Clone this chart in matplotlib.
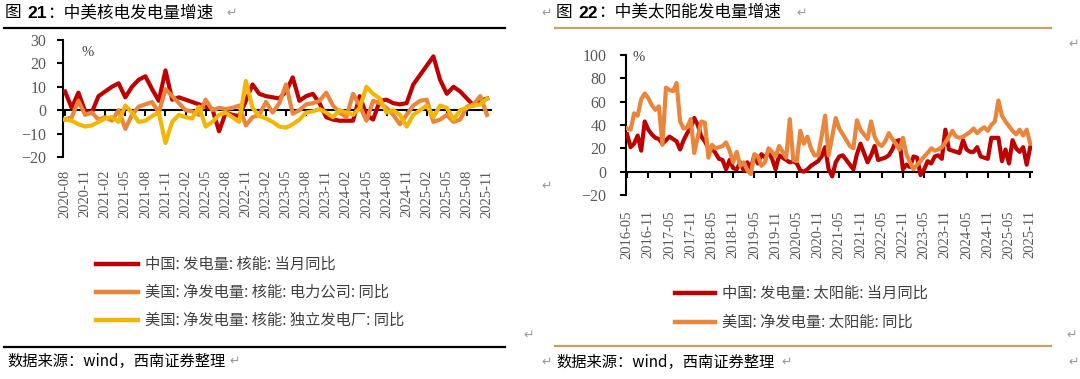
import matplotlib
matplotlib.use('Agg')
import matplotlib.pyplot as plt
import pandas as pd
from matplotlib.lines import Line2D

W, H = 1080, 379
plt.rcParams['font.family'] = ['Liberation Serif', 'DejaVu Serif']
plt.rcParams['axes.unicode_minus'] = True

CJK = ['Noto Sans CJK SC', 'DejaVu Sans']
SANS = ['Liberation Sans', 'DejaVu Sans']

# ---------------- data ----------------
nuc_months = [str(p) for p in pd.period_range('2020-08', '2025-11', freq='M')]
cn_nuclear = [8, 1, 7.5, -0.5, -1,
              6, 8, 10, 11.5, 5.5, 10, 13, 14.5, 9, 4, 17, 4.5,
              5.5, 4.5, 3.5, 2.5, 1.5, 0.5, -9, -1, -2, -2.5, 4, 11,
              7, 6, 5.5, 5, 8, 14, 4, 6, 7, 3, -3, -4,
              -4.5, -4.5, -4.5, 6, -2, -4, 4, 4.5, 3, 2.5, 3, 11,
              15, 19, 23, 13, 7, 10, 8, 5, 2, 4, 5]
us_nuc_utility = [-4, -3, 4, -2, -1,
                  -4, -3, -4.5, 0, -8, -2, 1.5, 2.5, 3.5, -1, 9, 6,
                  3, 0, -0.5, -2, 4.5, 0, 1, 0.5, 1, 2, -6.5, -3,
                  -2, 3.5, -1, 3, 11, -1.5, 0, 2.5, 3, 4, 7.5, 2,
                  -1, -3, 7, 2, -4.5, 4, 3, 1, -2, -6, -2, 2,
                  4, 4.5, -5, -4, -2, -5, -4, 1.5, 2.5, 6, -2]
us_nuc_ipp = [-4, -4.5, -6, -7, -6.5,
              -5, -3.5, -3, -5, 2, -1, -5, -4.5, -2.5, -1, -14, -5,
              -2, -3, -3.5, 1.5, -7, -5, -2, -1, -3, -5, 12.5, 1,
              -2.5, -3.5, -5, -7, -7.5, -6, -4, -1, -0.5, 0.5, -1, -3,
              0, -1, -2, 1, 10, 7, 5, -1, 0, -2, -7, -2,
              0, 2, -3, 2, 1, -4, 0, 1, 2, 2.5, 5]

sol_months = [str(p) for p in pd.period_range('2016-05', '2025-11', freq='M')]
cn_solar = [32, 21, 24, 31, 18, 43, 36, 32, 29, 28,
            24, 27, 30, 28, 26, 19, 27, 33, 38, 46,
            40, 30, 26, 20, 20, 16, 11, 10, 2, 10,
            3, 2, 8, 1, 8, 3, 14, 7, 15, 12,
            17, 11, 2, 14, 12, 10, 8, 9, 7, 1,
            0, 2, 5, 7, 9, 13, 21, 2, -4, 8,
            13, 14, 10, 6, 2, 15, 24, 16, 8, 14,
            22, 10, 11, 12, 14, 19, 26, 27, 2, 6,
            4, 13, 12, -3, 2, 9, 7, 13, 14, 11,
            36, 19, 18, 17, 16, 27, 19, 17, 17, 21,
            13, 12, 11, 29, 29, 29, 9, 19, 7, 27,
            20, 17, 21, 6, 21]
us_solar = [37, 36, 50, 48, 62, 67, 63, 57, 53, 56,
            23, 72, 70, 69, 76, 43, 37, 38, 45, 16,
            30, 43, 42, 12, 23, 20, 21, 22, 25, 18,
            8, 17, 5, 8, 1, -2, 15, 13, 5, 8,
            20, 17, 13, 22, 17, 12, 45, 10, 9, 35,
            24, 30, 20, 14, 14, 30, 48, 14, 30, 46,
            37, 32, 27, 22, 20, 44, 36, 32, 28, 43,
            30, 24, 22, 26, 33, 28, 24, 19, 29, 15,
            8, 2, 6, 9, 13, 16, 20, 18, 19, 21,
            25, 30, 35, 30, 29, 30, 32, 34, 37, 33,
            36, 38, 35, 40, 43, 61, 48, 43, 39, 35,
            32, 36, 31, 36, 24]

RED = '#C00000'
ORANGE = '#EA853C'
YELLOW = '#F2B705'
GOLD = '#C9A063'
TICKC = '#595959'
TXTC = '#404040'
MARKC = '#9a9a9a'

fig = plt.figure(figsize=(10.8, 3.79), dpi=100)


def fx(x):
    return x / W


def fy(y):
    return 1 - y / H


def add_ax(x0, x1, ytop, ybot):
    return fig.add_axes([fx(x0), fy(ybot), (x1 - x0) / W, (ybot - ytop) / H])


def setup(ax, ylim, yticks, xidx, months, xlim, pad_y, pad_x):
    ax.set_xlim(*xlim)
    ax.set_ylim(*ylim)
    ax.set_yticks(yticks)
    for s in ('top', 'right'):
        ax.spines[s].set_visible(False)
    ax.spines['left'].set_linewidth(1.5)
    ax.spines['bottom'].set_position(('data', 0))
    ax.spines['bottom'].set_linewidth(1.5)
    ax.set_xticks(xidx)
    ax.tick_params(axis='x', direction='out', length=4, width=1.5, labelbottom=False)
    ax.tick_params(axis='y', direction='out', length=4, width=1.5, pad=pad_y,
                   labelsize=11.5, labelcolor=TICKC)
    sec = ax.secondary_xaxis('bottom')
    sec.set_xticks(xidx, [months[i] for i in xidx])
    sec.tick_params(length=0, pad=pad_x, labelsize=10.5, labelcolor=TICKC, rotation=90)
    sec.spines['bottom'].set_visible(False)
    ax.patch.set_alpha(0)


def mark(x, y, size=9):
    fig.text(fx(x), fy(y), '\u21b5', family=['DejaVu Sans'], fontsize=size,
             color=MARKC, ha='left', va='center')


# ---------------- left chart ----------------
axL = add_ax(63, 491, 40, 157)
xL = list(range(len(nuc_months)))
axL.plot(xL, cn_nuclear, color=RED, lw=3, solid_joinstyle='round', zorder=3)
axL.plot(xL, us_nuc_utility, color=ORANGE, lw=3, solid_joinstyle='round', zorder=3)
axL.plot(xL, us_nuc_ipp, color=YELLOW, lw=3, solid_joinstyle='round', zorder=3)
setup(axL, (-20, 30), [-20, -10, 0, 10, 20, 30], list(range(0, len(nuc_months), 3)),
      nuc_months, (-0.3, 63.6), 8, 9)
axL.text(0.058, 0.895, '%', transform=axL.transAxes, fontsize=10.5, color=TXTC,
         ha='center', va='center')

# ---------------- right chart ----------------
axR = add_ax(626, 1032, 55, 195)
xR = list(range(len(sol_months)))
axR.plot(xR, cn_solar, color=RED, lw=3, solid_joinstyle='round', zorder=3)
axR.plot(xR, us_solar, color=ORANGE, lw=3, solid_joinstyle='round', zorder=3)
setup(axR, (-20, 100), [-20, 0, 20, 40, 60, 80, 100], list(range(0, len(sol_months), 6)),
      sol_months, (-0.3, 114.5), 10, 11)
axR.text(0.03, 0.985, '%', transform=axR.transAxes, fontsize=10.5, color=TXTC,
         ha='center', va='center')

# ---------------- titles ----------------
fig.text(fx(5), fy(13), '图', family=CJK, fontsize=12, ha='left', va='center')
fig.text(fx(27), fy(13), '21', family=SANS, fontsize=12.5, weight='bold', ha='left', va='center')
fig.text(fx(47), fy(13), '：中美核电发电量增速', family=CJK, fontsize=12, ha='left', va='center')
mark(226, 13)

mark(541, 13)
fig.text(fx(556), fy(13), '图', family=CJK, fontsize=12, ha='left', va='center')
fig.text(fx(578), fy(13), '22', family=SANS, fontsize=12.5, weight='bold', ha='left', va='center')
fig.text(fx(598), fy(13), '：中美太阳能发电量增速', family=CJK, fontsize=12, ha='left', va='center')
mark(796, 13)
mark(1068, 44)

fig.add_artist(Line2D([fx(4), fx(505)], [fy(28), fy(28)], color='black', lw=1.6))
fig.add_artist(Line2D([fx(555), fx(1051)], [fy(28), fy(28)], color=GOLD, lw=1.6))

# ---------------- legends ----------------
hL = [Line2D([], [], color=c, lw=3.2) for c in (RED, ORANGE, YELLOW)]
labL = ['中国: 发电量: 核能: 当月同比', '美国: 净发电量: 核能: 电力公司: 同比',
        '美国: 净发电量: 核能: 独立发电厂: 同比']
fig.legend(hL, labL, loc='upper left', bbox_to_anchor=(fx(96), fy(256)), frameon=False,
           borderpad=0, borderaxespad=0, handlelength=2.75, handletextpad=0.45,
           labelspacing=0.72, prop={'family': CJK, 'size': 11}, labelcolor=TXTC)

hR = [Line2D([], [], color=c, lw=3.2) for c in (RED, ORANGE)]
labR = ['中国: 发电量: 太阳能: 当月同比', '美国: 净发电量: 太阳能: 同比']
fig.legend(hR, labR, loc='upper left', bbox_to_anchor=(fx(675), fy(285)), frameon=False,
           borderpad=0, borderaxespad=0, handlelength=2.6, handletextpad=0.45,
           labelspacing=0.78, prop={'family': CJK, 'size': 11}, labelcolor=TXTC)

# ---------------- footers ----------------
mark(523, 335)
mark(1066, 335)
mark(541, 186)
fig.add_artist(Line2D([fx(4), fx(505)], [fy(347), fy(347)], color='black', lw=1.6))
fig.add_artist(Line2D([fx(555), fx(1051)], [fy(346), fy(346)], color=GOLD, lw=1.6))

fig.text(fx(7), fy(361), '数据来源：wind，西南证券整理', family=CJK, fontsize=11,
         style='italic', ha='left', va='center')
mark(229, 361)
mark(541, 362)
fig.text(fx(556), fy(362), '数据来源：wind，西南证券整理', family=CJK, fontsize=11,
         style='italic', ha='left', va='center')
mark(781, 362)
mark(1068, 362)

fig.savefig('out.png', dpi=100)
